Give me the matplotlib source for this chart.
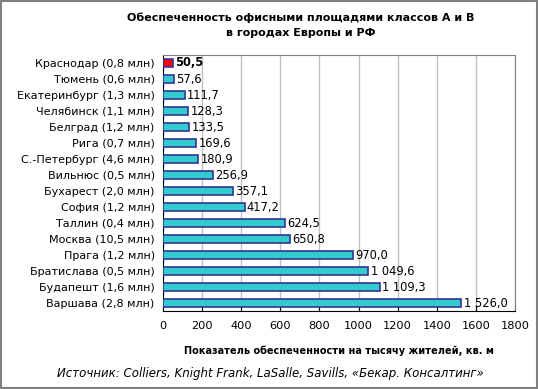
import numpy as np
import matplotlib.pyplot as plt
from matplotlib.patches import Rectangle

cities = ["Краснодар (0,8 млн)", "Тюмень (0,6 млн)", "Екатеринбург (1,3 млн)",
          "Челябинск (1,1 млн)", "Белград (1,2 млн)", "Рига (0,7 млн)",
          "С.-Петербург (4,6 млн)", "Вильнюс (0,5 млн)", "Бухарест (2,0 млн)",
          "София (1,2 млн)", "Таллин (0,4 млн)", "Москва (10,5 млн)",
          "Прага (1,2 млн)", "Братислава (0,5 млн)", "Будапешт (1,6 млн)",
          "Варшава (2,8 млн)"]
values = [50.5, 57.6, 111.7, 128.3, 133.5, 169.6, 180.9, 256.9, 357.1,
          417.2, 624.5, 650.8, 970.0, 1049.6, 1109.3, 1526.0]
xticks = [0, 200, 400, 600, 800, 1000, 1200, 1400, 1600, 1800]

def fmt(v):
    s = f"{v:,.1f}".replace(",", " ").replace(".", ",")
    return s

plt.rcParams['font.family'] = 'DejaVu Sans'
fig = plt.figure(figsize=(5.38, 3.89), dpi=100)
ax = fig.add_axes([163/538, 1-311/389, (515-163)/538, (311-55)/389])

y = np.arange(len(cities))
colors = ['#FF0000'] + ['#33CCCC'] * (len(cities) - 1)
ax.barh(y, values, height=0.5, color=colors, edgecolor='#333399', linewidth=1.2, zorder=3)
for i, v in enumerate(values):
    ax.text(v + 12, i, fmt(v), va='center', ha='left', fontsize=8.3,
            fontweight='bold' if i == 0 else 'normal', zorder=4)

ax.set_ylim(len(cities) - 0.5, -0.5)
ax.set_xlim(0, 1800)
ax.set_xticks(xticks)
ax.set_xticklabels([str(t) for t in xticks], fontsize=8.2)
ax.set_yticks(y)
ax.set_yticklabels(cities, fontsize=8.0)
ax.tick_params(axis='y', length=0, pad=6)
ax.tick_params(axis='x', length=4, direction='in', pad=7)
ax.grid(axis='x', color='#c0c0c0', linewidth=1, zorder=0)
for side in ['top', 'right']:
    ax.spines[side].set_color('#808080')
ax.spines['left'].set_color('black')
ax.spines['bottom'].set_color('black')

ax.set_xlabel("Показатель обеспеченности на тысячу жителей, кв. м",
              fontsize=7, fontweight='bold', labelpad=11)

fig.text(301/538, 1-25/389, "Обеспеченность офисными площадями классов А и В\nв городах Европы и РФ",
         ha='center', va='center', fontsize=8, fontweight='bold', linespacing=1.6)
fig.text(270/538, 1-374/389, "Источник: Colliers, Knight Frank, LaSalle, Savills, «Бекар. Консалтинг»",
         ha='center', va='center', fontsize=8.5, style='italic')

fig.patches.append(Rectangle((0.002, 0.002), 0.996, 0.996, transform=fig.transFigure,
                             fill=False, edgecolor='#808080', linewidth=1.5))

fig.savefig("out.png", dpi=100)
